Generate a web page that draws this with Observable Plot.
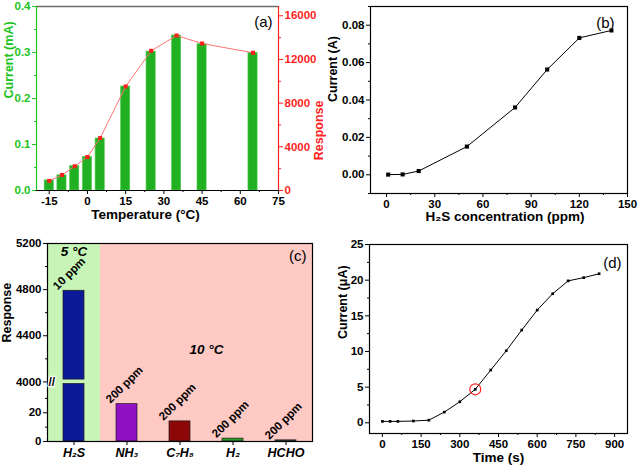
<!DOCTYPE html>
<html><head><meta charset="utf-8">
<script src="https://cdn.jsdelivr.net/npm/d3@7"></script>
<script src="https://cdn.jsdelivr.net/npm/@observablehq/plot@0.6"></script>
<style>
body{margin:0;background:#fff}
#root{position:relative;width:638px;height:465px;overflow:hidden;background:#fff}
.panel{position:absolute}
.panel svg{overflow:visible !important;background:transparent !important;max-width:none !important}
</style></head><body><div id="root">
<div class="panel" id="pa" style="left:0;top:0;width:319px"></div>
<div class="panel" id="pb" style="left:320px;top:0;width:318px"></div>
<div class="panel" id="pc" style="left:0;top:220px;width:320px"></div>
<div class="panel" id="pd" style="left:320px;top:220px;width:318px"></div>
</div>
<script>
// ---- Panel (a): current & response vs temperature
const tempC = [-15, -10, -5, 0, 5, 15, 25, 35, 45, 65];
const currentmA = [0.022, 0.033, 0.053, 0.073, 0.113, 0.226, 0.302, 0.337, 0.318, 0.299];
const responseA = [880, 1420, 2220, 3070, 4800, 9530, 12790, 14190, 13460, 12610];
const xTicksA = [-15, 0, 15, 30, 45, 60, 75];
const xMinorA = [-7.5, 7.5, 22.5, 37.5, 52.5, 67.5];
const yTicksA = [0, 0.1, 0.2, 0.3, 0.4];
const yMinorA = [0.05, 0.15, 0.25, 0.35];
const rTicksA = [0, 4000, 8000, 12000, 16000];
const rMinorA = [2000, 6000, 10000, 14000];

// ---- Panel (b): current vs H2S concentration
const concB = [1, 10, 20, 50, 80, 100, 120, 140];
const currentB = [0.0001, 0.0002, 0.002, 0.0151, 0.036, 0.0563, 0.0732, 0.0772];
const xTicksB = [0, 30, 60, 90, 120, 150];
const xMinorB = [15, 45, 75, 105, 135];
const yTicksB = [0, 0.02, 0.04, 0.06, 0.08];
const yMinorB = [-0.01, 0.01, 0.03, 0.05, 0.07, 0.09];

// ---- Panel (c): selectivity
const gasC = ["H₂S", "NH₃", "C₇H₈", "H₂", "HCHO"];
const respC = [4790, 26, 14, 2, 0.8];
const concLabelC = ["10 ppm", "200 ppm", "200 ppm", "200 ppm", "200 ppm"];
const tempLabelC = ["5 °C", "10 °C"];
const yTicksC = [0, 20, 4000, 4400, 4800, 5200];
const yMinorC = [10, 30, 4200, 4600, 5000];

// ---- Panel (d): current vs time
const timeD = [0, 30, 60, 120, 180, 240, 300, 360, 420, 480, 540, 600, 660, 720, 780, 840];
const currentD = [0.2, 0.2, 0.2, 0.25, 0.37, 1.5, 2.95, 4.7, 7.4, 10.1, 13.0, 15.8, 18.1, 19.9, 20.35, 20.9];
const xTicksD = [0, 150, 300, 450, 600, 750, 900];
const xMinorD = [75, 225, 375, 525, 675, 825];
const yTicksD = [0, 5, 10, 15, 20, 25];
const yMinorD = [2.5, 7.5, 12.5, 17.5, 22.5];
const markedD = [7];

const FONT = "'Liberation Sans', Arial, Helvetica, sans-serif";
const baseStyle = {fontFamily: FONT, fontSize: "11.5px", fontWeight: "bold", background: "transparent", overflow: "visible", color: "#000"};
const blank = () => "";
const str = d => String(d);

// ================= (a)
const GREEN = "#1dc41d", RED = "#ff1f1f";
const kA = 0.4 / 16850;
const dataA = tempC.map((t, i) => ({t, cur: currentmA[i], resp: responseA[i]}));
const plotA = Plot.plot({
  width: 319, height: 220, marginLeft: 36, marginRight: 41, marginTop: 6, marginBottom: 30,
  style: baseStyle,
  x: {domain: [-20, 75]},
  y: {domain: [0, 0.4]},
  marks: [
    Plot.rectY(dataA, {x1: d => d.t - 1.8, x2: d => d.t + 1.8, y: "cur", fill: "#21b021", stroke: "#4fcc4f", strokeWidth: 0.6}),
    Plot.line(dataA, {x: "t", y: d => d.resp * kA, stroke: "#ff7474", strokeWidth: 1}),
    Plot.dot(dataA, {x: "t", y: d => d.resp * kA, symbol: "square", r: 2.3, fill: RED}),
    Plot.ruleY([0.4], {stroke: "#6b6b6b", strokeWidth: 1.6}),
    Plot.ruleX([-20], {stroke: GREEN, strokeWidth: 1.2}),
    Plot.ruleX([75], {stroke: RED, strokeWidth: 1.2}),
    Plot.ruleY([0], {stroke: "#000", strokeWidth: 1.2}),
    Plot.axisX({ticks: xTicksA, tickSize: 4, tickPadding: 2, tickFormat: str, label: null}),
    Plot.axisX({ticks: xMinorA, tickSize: 2, tickFormat: blank, label: null}),
    Plot.axisY({ticks: yTicksA, tickSize: 4, tickPadding: 2, tickFormat: d3.format(".1f"), label: null, color: GREEN}),
    Plot.axisY({ticks: yMinorA, tickSize: 2, tickFormat: blank, label: null, color: GREEN}),
    Plot.axisY({anchor: "right", ticks: rTicksA.map(v => v * kA), tickSize: 4, tickPadding: 2, tickFormat: u => String(Math.round(u / kA)), label: null, color: RED}),
    Plot.axisY({anchor: "right", ticks: rMinorA.map(v => v * kA), tickSize: 2, tickFormat: blank, label: null, color: RED}),
    Plot.text(["(a)"], {frameAnchor: "top-right", dx: -6, dy: 10, fontSize: 15, fontWeight: "normal"}),
    Plot.text(["Temperature (°C)"], {frameAnchor: "bottom", dx: -12, dy: 24, fontSize: 13.5, lineAnchor: "middle"}),
    Plot.text(["Current (mA)"], {frameAnchor: "left", rotate: -90, dx: -28, fontSize: 12.5, fill: GREEN, lineAnchor: "middle"}),
    Plot.text(["Response"], {frameAnchor: "right", rotate: -90, dx: 40, dy: 2, fontSize: 12.5, fill: RED, lineAnchor: "middle"})
  ]
});
document.getElementById("pa").append(plotA);

// ================= (b)
const dataB = concB.map((c, i) => ({c, cur: currentB[i]}));
const plotB = Plot.plot({
  width: 318, height: 220, marginLeft: 50, marginRight: 11, marginTop: 6, marginBottom: 27,
  style: baseStyle,
  x: {domain: [-10, 150]},
  y: {domain: [-0.01, 0.09]},
  marks: [
    Plot.frame({stroke: "#000", strokeWidth: 1.2}),
    Plot.line(dataB, {x: "c", y: "cur", stroke: "#000", strokeWidth: 1}),
    Plot.dot(dataB, {x: "c", y: "cur", symbol: "square", r: 2.3, fill: "#000"}),
    Plot.axisX({ticks: xTicksB, tickSize: 4, tickPadding: 2, tickFormat: str, label: null}),
    Plot.axisX({ticks: xMinorB, tickSize: 2, tickFormat: blank, label: null}),
    Plot.axisY({ticks: yTicksB, tickSize: 4, tickPadding: 2, tickFormat: d3.format(".2f"), label: null}),
    Plot.axisY({ticks: yMinorB, tickSize: 2, tickFormat: blank, label: null}),
    Plot.text(["(b)"], {frameAnchor: "top-right", dx: -13, dy: 11, fontSize: 15, fontWeight: "normal"}),
    Plot.text(["H₂S concentration (ppm)"], {frameAnchor: "bottom", dx: 6, dy: 23, fontSize: 13.5, lineAnchor: "middle"}),
    Plot.text(["Current (A)"], {frameAnchor: "left", rotate: -90, dx: -38, dy: 2, fontSize: 12.5, lineAnchor: "middle"})
  ]
});
document.getElementById("pb").append(plotB);

// ================= (c) broken axis
const BR_POS = 41.5, UP_K = 0.0803;
const fC = v => v < 1000 ? v : BR_POS + (v - 4000) * UP_K;
const cutLow = 40, cutHigh = 4020;
const barsC = [];
gasC.forEach((g, i) => {
  const v = respC[i];
  if (v > cutHigh) {
    barsC.push({g, y1: 0, y2: cutLow});
    barsC.push({g, y1: fC(cutHigh), y2: fC(v)});
  } else barsC.push({g, y1: 0, y2: v});
});
const topC = fC(5200);
const labelC = u => {
  const v = yTicksC.find(t => Math.abs(fC(t) - u) < 1e-6);
  return v === undefined ? "" : String(v);
};
const plotC = Plot.plot({
  width: 320, height: 245, marginLeft: 47, marginRight: 8, marginTop: 23, marginBottom: 24,
  style: baseStyle,
  x: {type: "band", domain: gasC, padding: 0},
  y: {domain: [0, topC]},
  color: {domain: gasC, range: ["#0b1a96", "#9010c4", "#8c0707", "#2a9c2a", "#2e4a48"]},
  marks: [
    Plot.barY([gasC[0]], {x: d => d, y1: 0, y2: topC, fill: "#c6f5b7"}),
    Plot.barY(gasC.slice(1), {x: d => d, y1: 0, y2: topC, fill: "#ffc9c4"}),
    Plot.barY(barsC, {x: "g", y1: "y1", y2: "y2", fill: "g", stroke: "#1a1a1a", strokeWidth: 0.7, insetLeft: 16, insetRight: 16}),
    Plot.frame({stroke: "#000", strokeWidth: 1.2}),
    Plot.axisX({tickSize: 4, tickPadding: 3, fontSize: 12.5, fontStyle: "italic", label: null}),
    Plot.axisY({ticks: yTicksC.map(fC), tickSize: 4, tickPadding: 2, tickFormat: labelC, label: null}),
    Plot.axisY({ticks: yMinorC.map(fC), tickSize: 2, tickFormat: blank, label: null}),
    Plot.text([0], {frameAnchor: "left", y: () => (cutLow + fC(cutHigh)) / 2, text: () => "//", dx: 1, fontSize: 12, stroke: "white", strokeWidth: 2.5, fill: "#000"}),
    Plot.text(gasC, {x: d => d, y: (d, i) => fC(respC[i]), text: (d, i) => concLabelC[i], rotate: -45, textAnchor: "start", dx: -19, dy: -3, fontSize: 11.5}),
    Plot.text([tempLabelC[0]], {x: () => gasC[0], frameAnchor: "top", dy: 3, lineAnchor: "top", fontSize: 13.5, fontStyle: "italic"}),
    Plot.text([tempLabelC[1]], {frameAnchor: "middle", dx: 26.5, dy: 7, fontSize: 13.5, fontStyle: "italic"}),
    Plot.text(["(c)"], {frameAnchor: "top-right", dx: -6, dy: 7, fontSize: 15, fontWeight: "normal"}),
    Plot.text(["Response"], {frameAnchor: "left", rotate: -90, dx: -40.5, fontSize: 12.5, lineAnchor: "middle"})
  ]
});
document.getElementById("pc").append(plotC);

// ================= (d)
const dataD = timeD.map((t, i) => ({t, cur: currentD[i]}));
const plotD = Plot.plot({
  width: 318, height: 245, marginLeft: 49, marginRight: 11, marginTop: 24, marginBottom: 32,
  style: baseStyle,
  x: {domain: [-50, 950]},
  y: {domain: [-1.5, 25]},
  marks: [
    Plot.frame({stroke: "#000", strokeWidth: 1.2}),
    Plot.line(dataD, {x: "t", y: "cur", stroke: "#000", strokeWidth: 1}),
    Plot.dot(dataD, {x: "t", y: "cur", symbol: "square", r: 1.5, fill: "#000"}),
    Plot.dot(markedD, {x: i => timeD[i], y: i => currentD[i], r: 5.5, stroke: "#ff2020", fill: "none", strokeWidth: 1.2}),
    Plot.axisX({ticks: xTicksD, tickSize: 4, tickPadding: 2, tickFormat: str, label: null}),
    Plot.axisX({ticks: xMinorD, tickSize: 2, tickFormat: blank, label: null}),
    Plot.axisY({ticks: yTicksD, tickSize: 4, tickPadding: 2, tickFormat: str, label: null}),
    Plot.axisY({ticks: yMinorD, tickSize: 2, tickFormat: blank, label: null}),
    Plot.text(["(d)"], {frameAnchor: "top-right", dx: -6, dy: 13, fontSize: 15, fontWeight: "normal"}),
    Plot.text(["Time (s)"], {frameAnchor: "bottom", dy: 24, fontSize: 13.5, lineAnchor: "middle"}),
    Plot.text(["Current (μA)"], {frameAnchor: "left", rotate: -90, dx: -27, fontSize: 12.5, lineAnchor: "middle"})
  ]
});
document.getElementById("pd").append(plotD);
</script>
</body></html>
